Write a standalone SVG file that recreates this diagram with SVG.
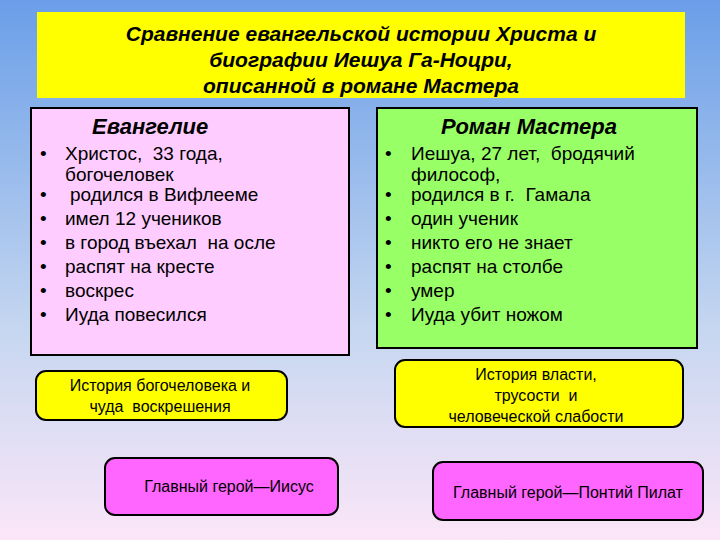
<svg xmlns="http://www.w3.org/2000/svg" width="720" height="540" viewBox="0 0 720 540">
<defs>
<linearGradient id="bg" x1="0" y1="0" x2="0" y2="1">
<stop offset="0" stop-color="#6a9ee8"/><stop offset="0.6" stop-color="#c4d6f0"/><stop offset="1" stop-color="#fbe6f8"/>
</linearGradient>
</defs>
<style>
text{font-family:"Liberation Sans",Arial,sans-serif;fill:#000}
.t{font-size:21px;font-weight:bold;font-style:italic;text-anchor:middle}
.h{font-size:22px;font-weight:bold;font-style:italic}
.b{font-size:19px}
.s{font-size:16px;text-anchor:middle}
.box{stroke:#000;stroke-width:2}
</style>
<rect width="720" height="540" fill="url(#bg)"/>
<g id="title">
<rect x="37" y="12" width="648" height="86" fill="#ffff00"/>
<text class="t" x="361" y="41">Сравнение евангельской истории Христа и</text>
<text class="t" x="361" y="67">биографии Иешуа Га-Ноцри,</text>
<text class="t" x="361" y="93">описанной в романе Мастера</text>
</g>
<g id="gospel">
<rect class="box" x="31" y="108" width="318" height="247" fill="#ffccff"/>
<text class="h" x="92" y="134">Евангелие</text>
<g class="b">
<text x="40" y="160">•</text><text x="65" y="160">Христос,&#160; 33 года,</text><text x="65" y="181">богочеловек</text>
<text x="40" y="201">•</text><text x="70" y="201">родился в Вифлееме</text>
<text x="40" y="225">•</text><text x="65" y="225">имел 12 учеников</text>
<text x="40" y="249">•</text><text x="65" y="249">в город въехал&#160; на осле</text>
<text x="40" y="273">•</text><text x="65" y="273">распят на кресте</text>
<text x="40" y="297">•</text><text x="65" y="297">воскрес</text>
<text x="40" y="321">•</text><text x="65" y="321">Иуда повесился</text>
</g>
</g>
<g id="novel">
<rect class="box" x="377" y="108" width="320" height="240" fill="#99ff66"/>
<text class="h" x="441" y="134">Роман Мастера</text>
<g class="b">
<text x="385" y="160">•</text><text x="411" y="160">Иешуа, 27 лет,&#160; бродячий</text><text x="411" y="181">философ,</text>
<text x="385" y="201">•</text><text x="411" y="201">родился в г.&#160; Гамала</text>
<text x="385" y="225">•</text><text x="411" y="225">один ученик</text>
<text x="385" y="249">•</text><text x="411" y="249">никто его не знает</text>
<text x="385" y="273">•</text><text x="411" y="273">распят на столбе</text>
<text x="385" y="297">•</text><text x="411" y="297">умер</text>
<text x="385" y="321">•</text><text x="411" y="321">Иуда убит ножом</text>
</g>
</g>
<g id="story1">
<rect class="box" x="36" y="371" width="251" height="49" rx="10" fill="#ffff00"/>
<text class="s" x="160" y="391">История богочеловека и</text>
<text class="s" x="160" y="412">чуда&#160; воскрешения</text>
</g>
<g id="story2">
<rect class="box" x="395" y="360" width="288" height="67" rx="10" fill="#ffff00"/>
<text class="s" x="536" y="380">История власти,</text>
<text class="s" x="536" y="401">трусости&#160; и</text>
<text class="s" x="536" y="422">человеческой слабости</text>
</g>
<g id="hero1">
<rect class="box" x="105" y="458" width="233" height="57" rx="10" fill="#ff66ff"/>
<text class="s" x="229" y="492">Главный герой—Иисус</text>
</g>
<g id="hero2">
<rect class="box" x="433" y="462" width="270" height="58" rx="10" fill="#ff66ff"/>
<text class="s" x="568" y="498">Главный герой—Понтий Пилат</text>
</g>
<g id="connectors"/>
</svg>
